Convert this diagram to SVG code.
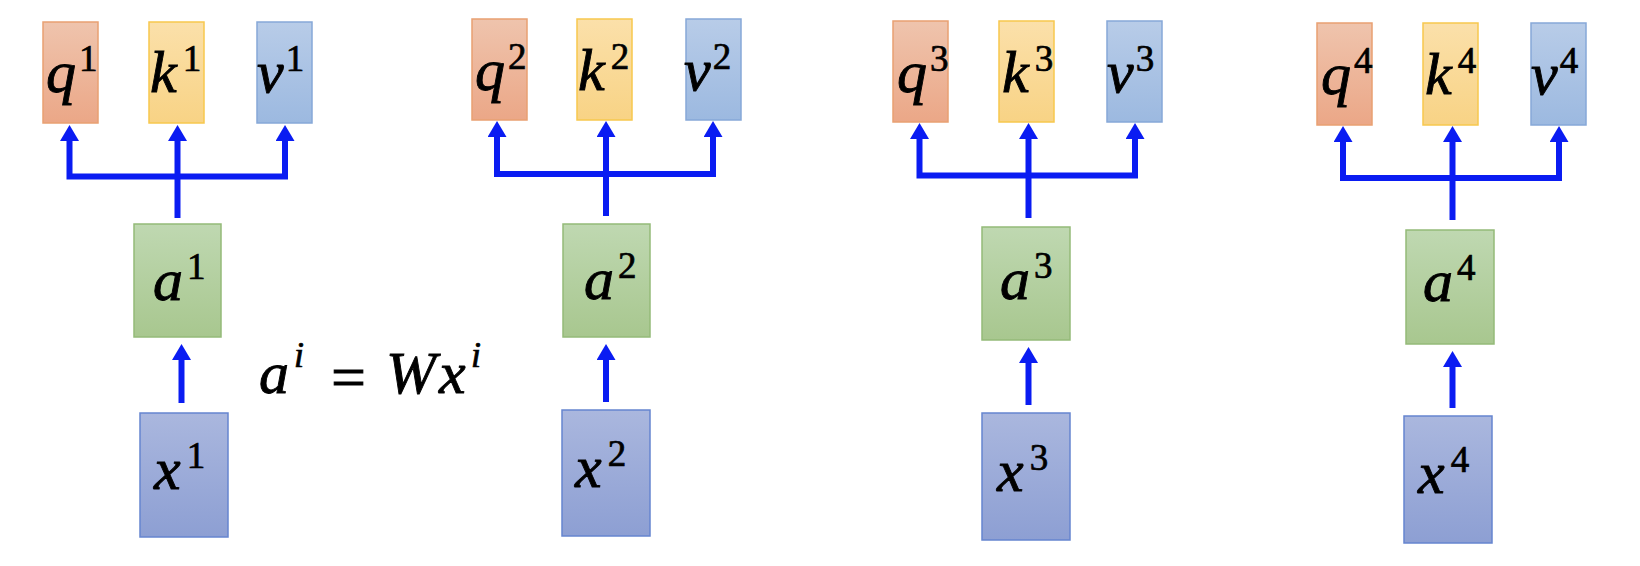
<svg xmlns="http://www.w3.org/2000/svg" width="1640" height="566" viewBox="0 0 1640 566">
<style>
.t{font-family:"Liberation Serif","Times New Roman",serif;font-style:italic;font-size:60px;fill:#000;stroke:#000;stroke-width:0.9px}
.s{font-style:normal;font-size:37px;stroke-width:0.7px}
.si{font-style:italic;font-size:36px;stroke-width:0.7px}
.eq{font-family:"Liberation Serif","Times New Roman",serif;font-style:normal;font-size:62px;fill:#000;stroke:#000;stroke-width:0.8px}
.q{fill:url(#gq);stroke:#E9A072;stroke-width:1.5}
.k{fill:url(#gk);stroke:#F7C84E;stroke-width:1.5}
.v{fill:url(#gv);stroke:#86A8D8;stroke-width:1.5}
.a{fill:url(#ga);stroke:#94BA78;stroke-width:1.5}
.x{fill:url(#gx);stroke:#6685CF;stroke-width:1.5}
.c{fill:none;stroke:#0A1CF2;stroke-width:6;stroke-linejoin:miter}
</style>
<defs>
<linearGradient id="gq" x1="0" y1="0" x2="0" y2="1"><stop offset="0" stop-color="#EFC4AD"/><stop offset="1" stop-color="#EBA787"/></linearGradient>
<linearGradient id="gk" x1="0" y1="0" x2="0" y2="1"><stop offset="0" stop-color="#FBE0AA"/><stop offset="1" stop-color="#F8D385"/></linearGradient>
<linearGradient id="gv" x1="0" y1="0" x2="0" y2="1"><stop offset="0" stop-color="#B8CCE8"/><stop offset="1" stop-color="#9CB9E0"/></linearGradient>
<linearGradient id="ga" x1="0" y1="0" x2="0" y2="1"><stop offset="0" stop-color="#BFD8B1"/><stop offset="1" stop-color="#A8C78F"/></linearGradient>
<linearGradient id="gx" x1="0" y1="0" x2="0" y2="1"><stop offset="0" stop-color="#AAB7DE"/><stop offset="1" stop-color="#8D9FD3"/></linearGradient>
<marker id="ah" viewBox="0 0 16 19" markerWidth="16" markerHeight="19" refX="2" refY="9.5" orient="auto-start-reverse" markerUnits="userSpaceOnUse">
<path d="M0,0 L16,9.5 L0,19 Z" fill="#0A1CF2"/>
</marker>
</defs>

<g id="connectors">
<path class="c" d="M69.5,139 V176.5 H285 V139" marker-start="url(#ah)" marker-end="url(#ah)"/>
<path class="c" d="M177.5,218 V139" marker-end="url(#ah)"/>
<path class="c" d="M181.5,403 V358" marker-end="url(#ah)"/>

<path class="c" d="M497,135 V174 H713 V135" marker-start="url(#ah)" marker-end="url(#ah)"/>
<path class="c" d="M606,216 V135" marker-end="url(#ah)"/>
<path class="c" d="M606,402 V358" marker-end="url(#ah)"/>

<path class="c" d="M919.5,137 V175.5 H1135 V137" marker-start="url(#ah)" marker-end="url(#ah)"/>
<path class="c" d="M1028.5,218 V137" marker-end="url(#ah)"/>
<path class="c" d="M1028.5,405 V361" marker-end="url(#ah)"/>

<path class="c" d="M1343,140 V178 H1559 V140" marker-start="url(#ah)" marker-end="url(#ah)"/>
<path class="c" d="M1452.5,220 V140" marker-end="url(#ah)"/>
<path class="c" d="M1452.5,408 V365" marker-end="url(#ah)"/>
</g>

<g id="q1"><rect class="q" x="43" y="22" width="55" height="101"/><text class="t" x="46" y="92">q<tspan class="s" dx="3" dy="-21">1</tspan></text></g>
<g id="k1"><rect class="k" x="149" y="22" width="55" height="101"/><text class="t" x="150" y="92">k<tspan class="s" dx="6" dy="-21">1</tspan></text></g>
<g id="v1"><rect class="v" x="257" y="22" width="55" height="101"/><text class="t" x="257" y="92">v<tspan class="s" dx="2" dy="-21">1</tspan></text></g>
<g id="a1"><rect class="a" x="134" y="224" width="87" height="113"/><text class="t" x="153" y="300">a<tspan class="s" dx="4" dy="-21">1</tspan></text></g>
<g id="x1"><rect class="x" x="140" y="413" width="88" height="124"/><text class="t" x="154" y="489">x<tspan class="s" dx="6" dy="-21">1</tspan></text></g>

<g id="q2"><rect class="q" x="472" y="19" width="55" height="101"/><text class="t" x="475" y="90">q<tspan class="s" dx="3" dy="-21">2</tspan></text></g>
<g id="k2"><rect class="k" x="577" y="19" width="55" height="101"/><text class="t" x="578" y="90">k<tspan class="s" dx="6" dy="-21">2</tspan></text></g>
<g id="v2"><rect class="v" x="686" y="19" width="55" height="101"/><text class="t" x="684" y="90">v<tspan class="s" dx="2" dy="-21">2</tspan></text></g>
<g id="a2"><rect class="a" x="563" y="224" width="87" height="113"/><text class="t" x="584" y="299">a<tspan class="s" dx="4" dy="-21">2</tspan></text></g>
<g id="x2"><rect class="x" x="562" y="410" width="88" height="126"/><text class="t" x="575" y="487">x<tspan class="s" dx="6" dy="-21">2</tspan></text></g>

<g id="q3"><rect class="q" x="893" y="21" width="55" height="101"/><text class="t" x="897" y="92">q<tspan class="s" dx="3" dy="-21">3</tspan></text></g>
<g id="k3"><rect class="k" x="999" y="21" width="55" height="101"/><text class="t" x="1002" y="92">k<tspan class="s" dx="6" dy="-21">3</tspan></text></g>
<g id="v3"><rect class="v" x="1107" y="21" width="55" height="101"/><text class="t" x="1107" y="92">v<tspan class="s" dx="2" dy="-21">3</tspan></text></g>
<g id="a3"><rect class="a" x="982" y="227" width="88" height="113"/><text class="t" x="1000" y="299">a<tspan class="s" dx="4" dy="-21">3</tspan></text></g>
<g id="x3"><rect class="x" x="982" y="413" width="88" height="127"/><text class="t" x="997" y="491">x<tspan class="s" dx="6" dy="-21">3</tspan></text></g>

<g id="q4"><rect class="q" x="1317" y="23" width="55" height="102"/><text class="t" x="1321" y="94">q<tspan class="s" dx="3" dy="-21">4</tspan></text></g>
<g id="k4"><rect class="k" x="1423" y="23" width="55" height="102"/><text class="t" x="1425" y="94">k<tspan class="s" dx="6" dy="-21">4</tspan></text></g>
<g id="v4"><rect class="v" x="1531" y="23" width="55" height="102"/><text class="t" x="1531" y="94">v<tspan class="s" dx="2" dy="-21">4</tspan></text></g>
<g id="a4"><rect class="a" x="1406" y="230" width="88" height="114"/><text class="t" x="1423" y="301">a<tspan class="s" dx="4" dy="-21">4</tspan></text></g>
<g id="x4"><rect class="x" x="1404" y="416" width="88" height="127"/><text class="t" x="1418" y="493">x<tspan class="s" dx="6" dy="-21">4</tspan></text></g>

<g id="equation">
<text class="t" y="393"><tspan x="259">a</tspan><tspan class="si" x="294" dy="-26">i</tspan></text>
<text class="eq" x="331" y="398">=</text>
<text class="t" y="393"><tspan x="386">W</tspan><tspan x="439">x</tspan><tspan class="si" x="471" dy="-26">i</tspan></text>
</g>
</svg>
